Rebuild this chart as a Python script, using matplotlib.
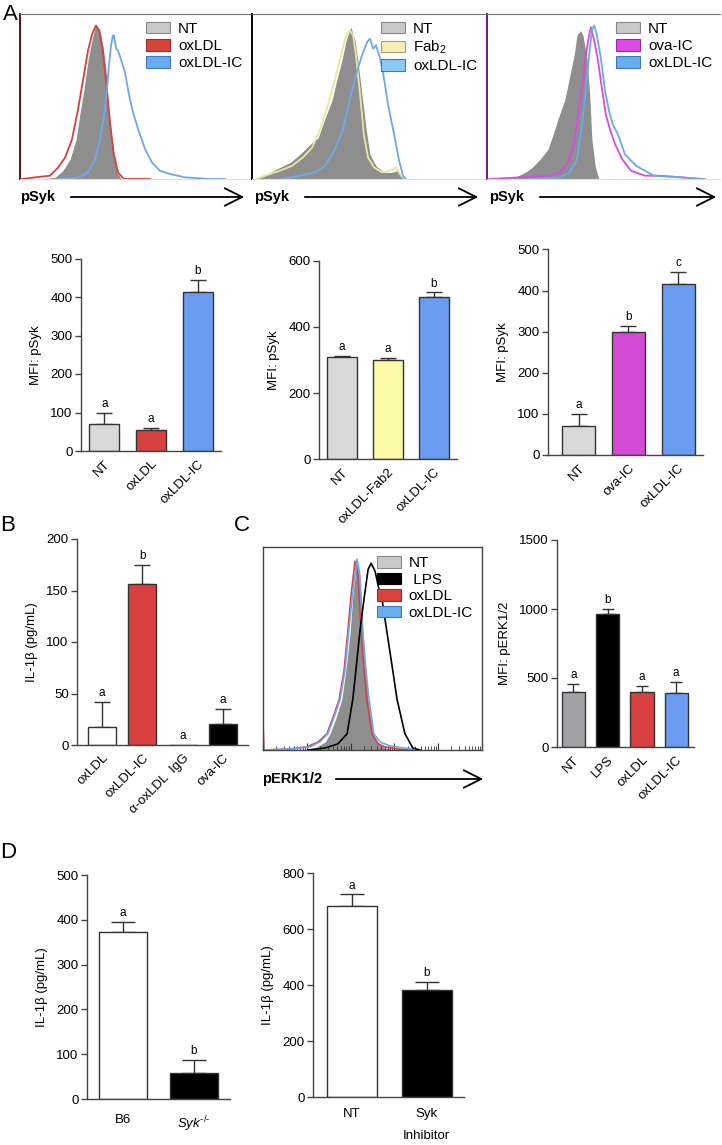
import numpy as np
import matplotlib
matplotlib.use('Agg')
import matplotlib.pyplot as plt
from matplotlib.patches import Patch, FancyArrowPatch

plt.rcParams['font.family'] = ['Liberation Sans', 'DejaVu Sans']
plt.rcParams['mathtext.fontset'] = 'custom'
plt.rcParams['mathtext.rm'] = 'Liberation Sans'
plt.rcParams['mathtext.it'] = 'Liberation Sans:italic'

# ---------------- DATA ----------------
# Histograms: x in log10 fluorescence decades, y in % of axis height
h1_nt_x = [0.43, 0.76, 0.93, 1.09, 1.22, 1.30, 1.39, 1.48, 1.57, 1.63, 1.67, 1.74, 1.80, 1.87, 1.91, 1.98, 2.04, 2.11, 2.20]
h1_nt_y = [0, 1, 5, 12, 24, 39, 54, 72, 85, 92, 93, 90, 81, 66, 48, 30, 15, 4, 0]
h1_ox_x = [0.04, 0.33, 0.65, 0.83, 0.98, 1.13, 1.26, 1.37, 1.48, 1.57, 1.65, 1.72, 1.80, 1.89, 1.96, 2.04, 2.13, 2.26, 2.83]
h1_ox_y = [0, 1, 2, 7, 13, 24, 42, 60, 78, 88, 93, 90, 78, 54, 33, 15, 4, 0, 0]
h1_ic_x = [0.87, 1.26, 1.48, 1.63, 1.74, 1.83, 1.89, 1.93, 1.98, 2.02, 2.04, 2.09, 2.13, 2.20, 2.28, 2.37, 2.46, 2.57, 2.72, 2.87, 3.04, 3.26, 3.59, 4.13, 4.46]
h1_ic_y = [0, 1, 4, 12, 24, 39, 54, 68, 81, 87, 87, 79, 78, 72, 65, 51, 40, 30, 18, 10, 5, 3, 1, 0, 0]

h2_nt_x = [0.09, 0.21, 0.39, 0.60, 0.82, 1.03, 1.25, 1.42, 1.57, 1.72, 1.82, 1.93, 2.02, 2.12, 2.21, 2.27, 2.36, 2.45, 2.53, 2.66, 2.83, 3.00, 3.11, 3.22, 3.30]
h2_nt_y = [0, 2, 4, 7, 10, 15, 21, 25, 37, 48, 60, 72, 84, 92, 84, 72, 51, 30, 15, 8, 4, 4, 5, 2, 0]
h2_fab_x = [0.09, 0.28, 0.60, 0.86, 1.09, 1.29, 1.46, 1.63, 1.78, 1.91, 2.02, 2.10, 2.17, 2.23, 2.32, 2.40, 2.49, 2.62, 2.79, 2.96, 3.09, 3.20, 3.28]
h2_fab_y = [0, 2, 5, 8, 13, 19, 30, 45, 60, 75, 87, 90, 87, 75, 51, 27, 13, 7, 4, 5, 7, 2, 0]
h2_ic_x = [0.64, 1.03, 1.35, 1.57, 1.78, 1.95, 2.10, 2.23, 2.36, 2.47, 2.53, 2.60, 2.66, 2.73, 2.81, 2.92, 3.05, 3.15, 3.24, 3.30]
h2_ic_y = [0, 2, 4, 8, 18, 30, 48, 63, 75, 83, 85, 79, 81, 75, 65, 45, 27, 12, 2, 0]

h3_nt_x = [0.39, 0.60, 0.82, 0.97, 1.14, 1.31, 1.42, 1.52, 1.67, 1.78, 1.87, 1.93, 2.00, 2.06, 2.15, 2.21, 2.25, 2.32, 2.40]
h3_nt_y = [0, 1, 4, 7, 12, 18, 27, 36, 48, 63, 75, 87, 90, 87, 72, 48, 24, 8, 0]
h3_ova_x = [0.04, 0.71, 1.35, 1.57, 1.74, 1.87, 1.97, 2.06, 2.12, 2.19, 2.23, 2.30, 2.38, 2.47, 2.55, 2.64, 2.75, 2.90, 3.09, 3.39, 3.71, 4.18, 4.57]
h3_ova_y = [0, 1, 2, 4, 10, 21, 42, 60, 75, 87, 92, 84, 72, 54, 39, 30, 21, 12, 5, 2, 2, 1, 0]
h3_ic_x = [0.92, 1.57, 1.78, 1.93, 2.04, 2.12, 2.19, 2.25, 2.30, 2.36, 2.45, 2.53, 2.62, 2.70, 2.81, 2.96, 3.20, 3.58, 4.14, 4.68]
h3_ic_y = [0, 1, 4, 12, 33, 54, 75, 90, 93, 87, 72, 54, 41, 33, 27, 15, 8, 2, 1, 0]

hc_nt_x = [0.84, 1.19, 1.42, 1.53, 1.67, 1.80, 1.89, 1.99, 2.05, 2.15, 2.21, 2.28, 2.35, 2.40, 2.51, 2.63, 2.79, 3.01]
hc_nt_y = [0, 1, 4, 8, 16, 25, 39, 58, 76, 94, 86, 58, 39, 25, 8, 3, 1, 0]
hc_lps_x = [1.03, 1.42, 1.71, 1.92, 2.05, 2.12, 2.21, 2.31, 2.40, 2.47, 2.56, 2.65, 2.72, 2.83, 2.95, 3.06, 3.24, 3.42, 3.58]
hc_lps_y = [0, 1, 3, 8, 25, 39, 58, 75, 89, 92, 88, 79, 74, 58, 41, 25, 8, 1, 0]
hc_ox_x = [0.0, 0.02, 0.62, 1.00, 1.26, 1.46, 1.60, 1.74, 1.85, 1.94, 2.01, 2.10, 2.17, 2.24, 2.31, 2.37, 2.49, 2.63, 2.79, 3.06, 3.36]
hc_ox_y = [14, 0, 0.5, 1.5, 4, 8, 16, 25, 39, 59, 76, 93, 86, 58, 39, 25, 8, 3, 1.5, 0.5, 0]
hc_ic_x = [0.0, 0.02, 0.60, 1.07, 1.30, 1.48, 1.62, 1.76, 1.87, 1.96, 2.05, 2.15, 2.21, 2.28, 2.35, 2.42, 2.53, 2.67, 2.90, 3.20, 3.58]
hc_ic_y = [7, 0, 0.5, 1.5, 4, 8, 16, 25, 39, 59, 78, 94, 86, 58, 39, 25, 8, 4, 2, 1, 0]

# Bar charts
a1_labels = ['NT', 'oxLDL', 'oxLDL-IC']
a1_vals = [70, 55, 413]
a1_errs = [100, 61, 444]
a1_letters = ['a', 'a', 'b']

a2_labels = ['NT', 'oxLDL-Fab2', 'oxLDL-IC']
a2_vals = [308, 300, 490]
a2_errs = [313, 307, 505]
a2_letters = ['a', 'a', 'b']

a3_labels = ['NT', 'ova-IC', 'oxLDL-IC']
a3_vals = [70, 300, 415]
a3_errs = [100, 315, 446]
a3_letters = ['a', 'b', 'c']

b_labels = ['oxLDL', 'oxLDL-IC', 'α-oxLDL  IgG', 'ova-IC']
b_vals = [17, 156, 0, 20]
b_errs = [42, 175, 0, 35]
b_letters = ['a', 'b', 'a', 'a']

c_labels = ['NT', 'LPS', 'oxLDL', 'oxLDL-IC']
c_vals = [398, 966, 398, 393]
c_errs = [459, 1002, 444, 473]
c_letters = ['a', 'b', 'a', 'a']

d1_labels = ['B6', r'$\mathit{Syk}^{\text{-/-}}$']
d1_vals = [373, 57]
d1_errs = [396, 87]
d1_letters = ['a', 'b']

d2_labels = ['NT', 'Syk\nInhibitor']
d2_vals = [683, 382]
d2_errs = [724, 410]
d2_letters = ['a', 'b']

# ---------------- STYLE ----------------
GRAY_FILL = '#8e8e8e'
RED = '#d6403f'
BLUE = '#6ea8ec'
YELLOW = '#ebe69c'
MAGENTA = '#d64ce0'
BAR_GRAY = '#d9d9d9'
BAR_RED = '#d94141'
BAR_BLUE = '#6a9cf2'
BAR_YEL = '#fbfaa6'
BAR_MAG = '#d34bd3'
BAR_CGRAY = '#a2a2a6'

TICK_FS = 9.5
XLAB_FS = 9.5
YLAB_FS = 9.5
LET_FS = 8.5

W, H = 722, 1145
fig = plt.figure(figsize=(W / 100, H / 100), dpi=100)


def add_ax(l, t, r, b):
    return fig.add_axes([l / W, 1 - b / H, (r - l) / W, (b - t) / H])


def fx(px):
    return px / W


def fy(py):
    return 1 - py / H


def hist_panel(ax, fill, outlines, legend, left_color='black'):
    ax.fill_between(fill[0], fill[1], color=GRAY_FILL, lw=0, zorder=1)
    for xs, ys, col in outlines:
        ax.plot(xs, ys, color=col, lw=1.3, zorder=2)
    ax.set_xlim(0, 5)
    ax.set_ylim(0, 100)
    ax.set_xticks([])
    ax.set_yticks([])
    ax.spines['right'].set_visible(False)
    ax.spines['top'].set_color('#777777')
    ax.spines['left'].set_color(left_color)
    ax.spines['left'].set_linewidth(1.4)
    ax.spines['bottom'].set_color('#dddddd')
    handles = [Patch(facecolor=fc, edgecolor=ec, linewidth=0.8, label=lb) for lb, fc, ec in legend]
    ax.legend(handles=handles, loc='upper right', frameon=False, fontsize=11,
              handlelength=1.6, handleheight=0.8, handletextpad=0.5,
              labelspacing=0.2, borderaxespad=0.3, borderpad=0.2)


def arrow_label(text, tx, ty, x0, x1):
    fig.text(fx(tx), fy(ty), text, fontweight='bold', fontsize=10.5, va='center', ha='left')
    arr = FancyArrowPatch((fx(x0), fy(ty)), (fx(x1), fy(ty)), transform=fig.transFigure,
                          arrowstyle='->,head_length=0.9,head_width=0.45', mutation_scale=14,
                          lw=1.3, color='black')
    fig.add_artist(arr)


def bar_panel(ax, labels, vals, errs, letters, colors, ylim, yticks, ylabel,
              width, xlim, capsize, rot=45, xpad=5, ylabel_pad=6):
    x = np.arange(len(vals))
    vals = np.array(vals, dtype=float)
    errs = np.array(errs, dtype=float)
    ax.bar(x, vals, width, color=colors, edgecolor='#333333', linewidth=1.0, zorder=2)
    m = errs > vals
    up = errs - vals
    ax.errorbar(x[m], vals[m], yerr=[np.zeros(m.sum()), up[m]], fmt='none', ecolor='#333333',
                elinewidth=1.0, capsize=capsize, capthick=1.0, zorder=1)
    for xi, e, L in zip(x, errs, letters):
        ax.annotate(L, (xi, e), xytext=(0, 2), textcoords='offset points',
                    ha='center', va='bottom', fontsize=LET_FS)
    ax.set_xlim(*xlim)
    ax.set_ylim(*ylim)
    ax.set_yticks(yticks)
    ax.set_yticklabels([str(t) for t in yticks], fontsize=TICK_FS)
    for s in ['top', 'right']:
        ax.spines[s].set_visible(False)
    for s in ['left', 'bottom']:
        ax.spines[s].set_color('#444444')
        ax.spines[s].set_linewidth(1.0)
    ax.set_xticks(x)
    if rot:
        ax.set_xticklabels(labels, rotation=rot, ha='right', rotation_mode='anchor', fontsize=XLAB_FS)
    else:
        ax.set_xticklabels(labels, fontsize=TICK_FS, linespacing=2.1)
    ax.tick_params(axis='x', length=0, pad=xpad)
    ax.tick_params(axis='y', length=4, width=1.0, color='#444444', pad=2)
    ax.set_ylabel(ylabel, fontsize=YLAB_FS, labelpad=ylabel_pad)


# ---------------- PANEL A: histograms ----------------
ax = add_ax(20, 14, 250, 179)
hist_panel(ax, (h1_nt_x, h1_nt_y), [(h1_ox_x, h1_ox_y, RED), (h1_ic_x, h1_ic_y, BLUE)],
           [('NT', '#c9c9c9', '#888888'), ('oxLDL', '#d8443c', '#a02a2a'), ('oxLDL-IC', '#66aef0', '#3f78c0')],
           left_color='#5a1010')
ax = add_ax(252, 14, 485, 179)
hist_panel(ax, (h2_nt_x, h2_nt_y), [(h2_fab_x, h2_fab_y, YELLOW), (h2_ic_x, h2_ic_y, BLUE)],
           [('NT', '#c9c9c9', '#888888'), ('Fab$_2$', '#f4efb4', '#a8a070'), ('oxLDL-IC', '#8cc8f8', '#3f78c0')])
ax = add_ax(487, 14, 720, 179)
hist_panel(ax, (h3_nt_x, h3_nt_y), [(h3_ova_x, h3_ova_y, MAGENTA), (h3_ic_x, h3_ic_y, BLUE)],
           [('NT', '#c9c9c9', '#888888'), ('ova-IC', '#e04ae4', '#9030a0'), ('oxLDL-IC', '#66aef0', '#3f78c0')],
           left_color='#6a1a80')

arrow_label('pSyk', 20, 197, 68, 247)
arrow_label('pSyk', 254, 197, 302, 481)
arrow_label('pSyk', 489, 197, 537, 719)

# ---------------- PANEL A: bars ----------------
ax = add_ax(81, 258.5, 221, 451)
bar_panel(ax, a1_labels, a1_vals, a1_errs, a1_letters, [BAR_GRAY, BAR_RED, BAR_BLUE],
          (0, 500), [0, 100, 200, 300, 400, 500], 'MFI: pSyk', 0.65, (-0.5, 2.5), 5.5)
ax = add_ax(319, 261, 457, 459)
bar_panel(ax, a2_labels, a2_vals, a2_errs, a2_letters, [BAR_GRAY, BAR_YEL, BAR_BLUE],
          (0, 600), [0, 200, 400, 600], 'MFI: pSyk', 0.66, (-0.5, 2.5), 5.5)
ax = add_ax(548, 249.5, 703, 455)
bar_panel(ax, a3_labels, a3_vals, a3_errs, a3_letters, [BAR_GRAY, BAR_MAG, BAR_BLUE],
          (0, 500), [0, 100, 200, 300, 400, 500], 'MFI: pSyk', 0.66, (-0.62, 2.5), 6)

# ---------------- PANEL B ----------------
ax = add_ax(77, 539, 248, 745)
bar_panel(ax, b_labels, b_vals, b_errs, b_letters, ['white', BAR_RED, 'white', 'black'],
          (0, 200), [0, 50, 100, 150, 200], 'IL-1β (pg/mL)', 0.7, (-0.62, 3.62), 5.5)

# ---------------- PANEL C ----------------
ax = add_ax(263, 547, 482, 750)
ax.fill_between(hc_nt_x, hc_nt_y, color=GRAY_FILL, lw=0, zorder=1)
ax.plot(hc_ox_x, hc_ox_y, color=RED, lw=1.2, zorder=2)
ax.plot(hc_ic_x, hc_ic_y, color=BLUE, lw=1.2, zorder=2)
ax.plot(hc_lps_x, hc_lps_y, color='black', lw=1.2, zorder=3)
ax.set_xlim(0, 5)
ax.set_ylim(0, 100)
ax.set_yticks([])
ax.set_xticks(np.arange(0, 6))
ax.set_xticks([d + np.log10(k) for d in range(5) for k in range(2, 10)], minor=True)
ax.set_xticklabels([])
ax.tick_params(axis='x', which='major', direction='in', length=5, color='#333333')
ax.tick_params(axis='x', which='minor', direction='in', length=3, color='#333333')
for s in ax.spines.values():
    s.set_color('#444444')
    s.set_linewidth(1.0)
handles = [Patch(facecolor='#c9c9c9', edgecolor='#888888', lw=0.8, label='NT'),
           Patch(facecolor='black', edgecolor='black', lw=0.8, label=' LPS'),
           Patch(facecolor='#d8443c', edgecolor='#a02a2a', lw=0.8, label='oxLDL'),
           Patch(facecolor='#66aef0', edgecolor='#3f78c0', lw=0.8, label='oxLDL-IC')]
ax.legend(handles=handles, loc='upper right', frameon=False, fontsize=11,
          handlelength=1.6, handleheight=0.8, handletextpad=0.5,
          labelspacing=0.15, borderaxespad=0.3, borderpad=0.3,
          bbox_to_anchor=(1.0, 1.0))
arrow_label('pERK1/2', 262, 779, 333, 486)

ax = add_ax(557, 540, 694, 747)
bar_panel(ax, c_labels, c_vals, c_errs, c_letters, [BAR_CGRAY, 'black', BAR_RED, BAR_BLUE],
          (0, 1500), [0, 500, 1000, 1500], 'MFI: pERK1/2', 0.68, (-0.48, 3.52), 4.5)

# ---------------- PANEL D ----------------
ax = add_ax(87, 875, 230, 1099)
bar_panel(ax, d1_labels, d1_vals, d1_errs, d1_letters, ['white', 'black'],
          (0, 500), [0, 100, 200, 300, 400, 500], 'IL-1β (pg/mL)', 0.68, (-0.51, 1.51), 8.5,
          rot=0, xpad=11)
ax = add_ax(313, 873, 464, 1097)
bar_panel(ax, d2_labels, d2_vals, d2_errs, d2_letters, ['white', 'black'],
          (0, 800), [0, 200, 400, 600, 800], 'IL-1β (pg/mL)', 0.67, (-0.52, 1.5), 8.5,
          rot=0, xpad=8)

# panel letters
for L, px, py in [('A', 10, 14), ('B', 8, 525), ('C', 242, 525), ('D', 8, 853)]:
    fig.text(fx(px), fy(py), L, fontsize=16, ha='center', va='center')

fig.savefig('out.png', dpi=100)
